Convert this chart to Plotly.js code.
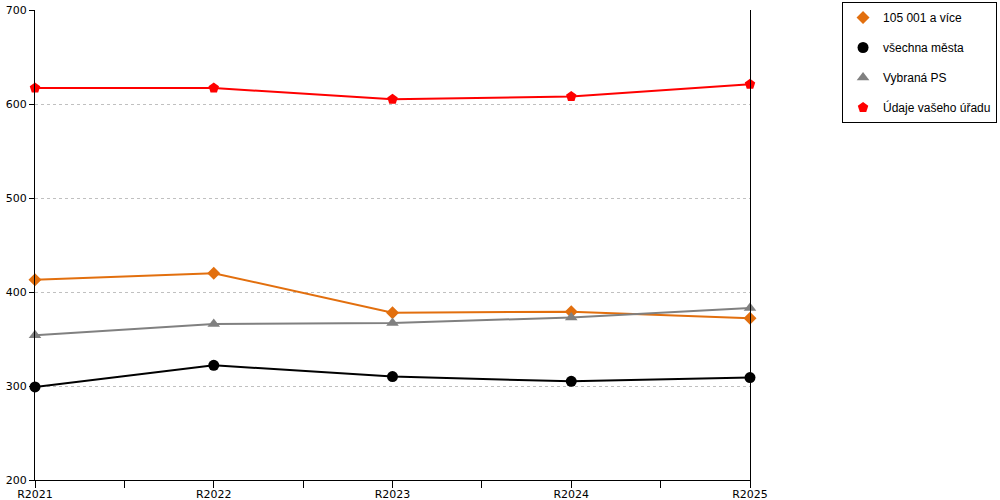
<!DOCTYPE html>
<html><head><meta charset="utf-8">
<script src="https://cdn.plot.ly/plotly-3.0.1.min.js"></script>
<style>html,body{margin:0;padding:0;background:#fff}#c{width:1000px;height:500px}</style>
</head><body><div id="c"></div>
<script>
const categories = ["R2021","R2022","R2023","R2024","R2025"];
const seriesNames = ["105 001 a více","všechna města","Vybraná PS","Údaje vašeho úřadu"];
const velka = [413, 420, 378, 379, 372];
const vsechna = [299, 322, 310, 305, 309];
const vybranaPS = [354, 366, 367, 373, 383];
const urad = [617, 617, 605, 608, 621];
const yTicks = [200, 300, 400, 500, 600, 700];

const idx = categories.map((c,i)=>i);
const styles = [
  {color:"#E26F0E", symbol:"diamond", size:10},
  {color:"#000000", symbol:"circle", size:11},
  {color:"#808080", symbol:"triangle-up", size:11},
  {color:"#FF0000", symbol:"pentagon", size:11}
];
const series = [velka, vsechna, vybranaPS, urad];
const data = [];
series.forEach((vals,i)=>{
  data.push({x: idx, y: vals, type:"scatter", mode:"lines", showlegend:false,
    line:{color:styles[i].color, width:2}, hoverinfo:"skip"});
});
series.forEach((vals,i)=>{
  data.push({x: idx, y: vals, name: seriesNames[i], type:"scatter", mode:"markers",
    legendgroup:"g"+i,
    marker:{color:styles[i].color, symbol:styles[i].symbol, size:styles[i].size},
    cliponaxis:false});
});

const layout = {
  width:1000, height:500,
  margin:{l:35, r:250, t:10, b:20, autoexpand:false},
  paper_bgcolor:"#fff", plot_bgcolor:"#fff",
  font:{family:"DejaVu Sans, Verdana, sans-serif", size:12, color:"#000"},
  showlegend:true,
  legend:{x:1.3455, y:1.0170, xanchor:"right", yanchor:"top", bordercolor:"#000", borderwidth:1,
          font:{family:"Liberation Sans, Arial, sans-serif", size:12}, tracegroupgap:11, itemwidth:30},
  xaxis:{range:[0,4], tickmode:"array", tickvals:idx, ticktext:categories,
         showgrid:false, zeroline:false, showline:true, linecolor:"#000", linewidth:1,
         ticks:"outside", ticklen:4, tickcolor:"#000",
         minor:{dtick:0.5, tick0:0, ticks:"outside", ticklen:7, tickcolor:"#000", showgrid:false},
         tickfont:{size:11}},
  yaxis:{range:[200,700], tickmode:"array", tickvals:yTicks,
         showgrid:true, gridcolor:"#c0c0c0", griddash:"dot", gridwidth:1,
         zeroline:false, showline:true, linecolor:"#000", linewidth:1, mirror:true,
         ticks:"outside", ticklen:5, tickcolor:"#000", tickfont:{size:11}}
};
Plotly.newPlot("c", data, layout, {displayModeBar:false, staticPlot:true});
</script></body></html>
